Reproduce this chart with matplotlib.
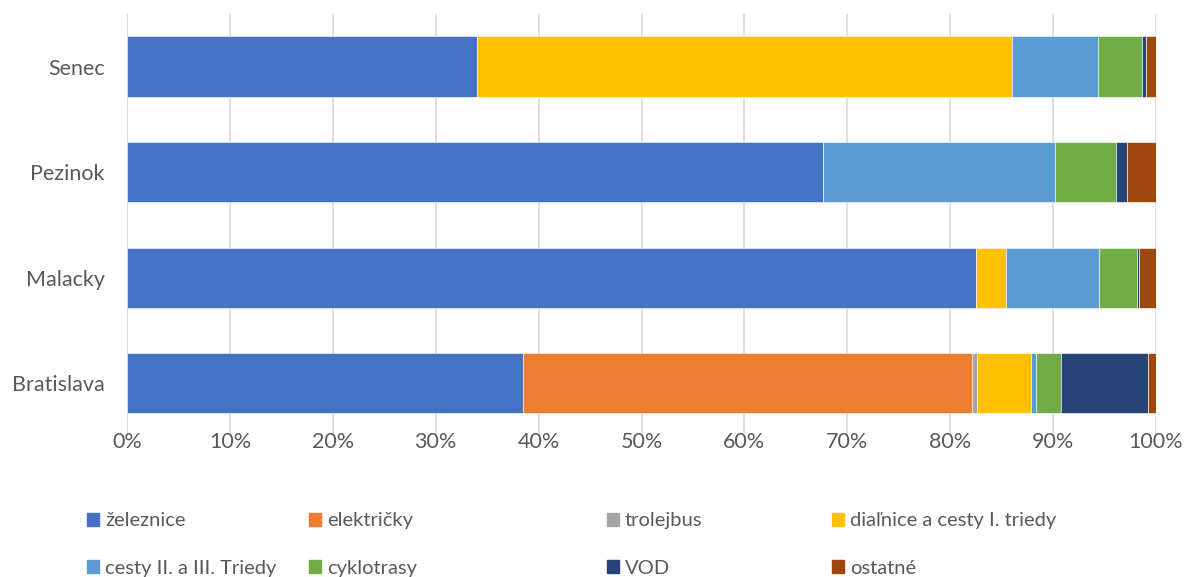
import matplotlib.pyplot as plt
from matplotlib.patches import Patch
from matplotlib.ticker import PercentFormatter

plt.rcParams['font.family'] = ['Lato', 'DejaVu Sans']

cities = ["Bratislava", "Malacky", "Pezinok", "Senec"]
series = ["železnice", "električky", "trolejbus", "diaľnice a cesty I. triedy",
          "cesty II. a III. Triedy", "cyklotrasy", "VOD", "ostatné"]
colors = ["#4472C4", "#ED7D31", "#A5A5A5", "#FFC000",
          "#5B9BD5", "#70AD47", "#264478", "#9E480E"]

# shares in % per city (Bratislava, Malacky, Pezinok, Senec)
zeleznice = [38.5, 82.5, 67.6, 34.0]
elektricky = [43.6, 0.0, 0.0, 0.0]
trolejbus = [0.55, 0.0, 0.0, 0.0]
dialnice = [5.2, 2.9, 0.0, 52.0]
cesty_2_3 = [0.45, 9.1, 22.6, 8.4]
cyklotrasy = [2.5, 3.7, 5.9, 4.2]
vod = [8.45, 0.15, 1.1, 0.4]
ostatne = [0.75, 1.65, 2.8, 1.0]

values = [zeleznice, elektricky, trolejbus, dialnice, cesty_2_3, cyklotrasy, vod, ostatne]

fig = plt.figure(figsize=(11.86, 5.77), dpi=100)
ax = fig.add_axes([0.1071, 0.2444, 0.8676, 0.7318])

left = [0.0] * len(cities)
for name, vals, col in zip(series, values, colors):
    ax.barh(cities, vals, left=left, height=0.57, color=col, label=name,
            edgecolor='white', linewidth=0.4)
    left = [a + b for a, b in zip(left, vals)]

ax.set_xlim(0, 100)
ax.set_ylim(-0.5, 3.5)
ax.set_xticks(range(0, 101, 10))
ax.xaxis.set_major_formatter(PercentFormatter(decimals=0))
ax.grid(axis='x', color='#D9D9D9', linewidth=1.2)
ax.set_axisbelow(True)
for s in ax.spines.values():
    s.set_visible(False)
ax.tick_params(length=0, labelsize=15.5, colors='#595959')
ax.tick_params(axis='y', pad=16)
ax.tick_params(axis='x', pad=-3)

# legend, laid out like the original (row by row, 4 columns)
col_x = [0.0734, 0.2605, 0.5118, 0.7015]
for i, x in enumerate(col_x):
    handles = [Patch(color=colors[i]), Patch(color=colors[i + 4])]
    labels = [series[i], series[i + 4]]
    fig.legend(handles, labels, loc='upper left', bbox_to_anchor=(x, 0.112),
               frameon=False, fontsize=14.5, labelcolor='#595959',
               handlelength=0.6, handleheight=0.6, handletextpad=0.3,
               labelspacing=1.5, borderaxespad=0, borderpad=0)

fig.savefig("out.png", dpi=100)
